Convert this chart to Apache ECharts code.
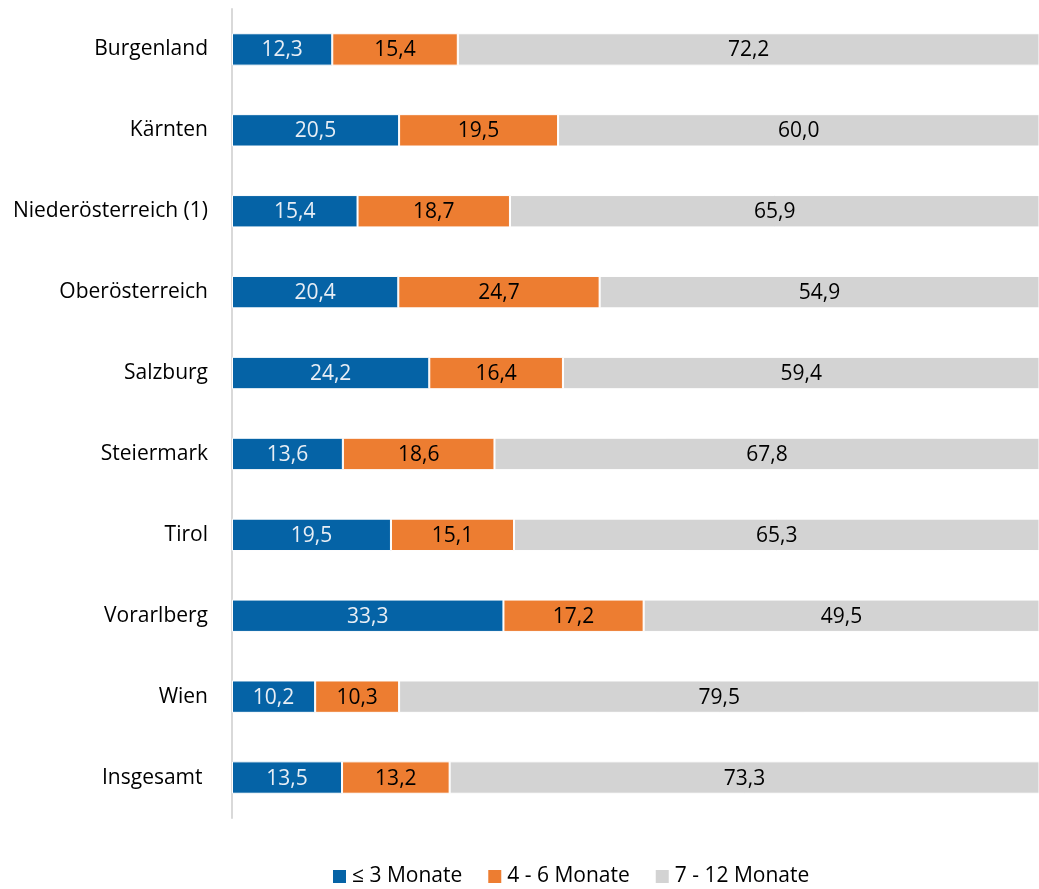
<!DOCTYPE html>
<html>
<head>
<meta charset="utf-8">
<script src="https://cdn.jsdelivr.net/npm/echarts@6/dist/echarts.min.js"></script>
<style>
  html, body { margin: 0; padding: 0; background: #fff; }
  #chart { width: 1039px; height: 889px; }
</style>
</head>
<body>
<div id="chart"></div>
<script>
// Bundesländer, oben nach unten
const regions = ['Burgenland', 'Kärnten', 'Niederösterreich (1)', 'Oberösterreich', 'Salzburg',
  'Steiermark', 'Tirol', 'Vorarlberg', 'Wien', 'Insgesamt ']
const upTo3 = [12.3, 20.5, 15.4, 20.4, 24.2, 13.6, 19.5, 33.3, 10.2, 13.5]
const from4to6 = [15.4, 19.5, 18.7, 24.7, 16.4, 18.6, 15.1, 17.2, 10.3, 13.2]
const from7to12 = [72.2, 60.0, 65.9, 54.9, 59.4, 67.8, 65.3, 49.5, 79.5, 73.3]
const seriesNames = ['≤ 3 Monate', '4 - 6 Monate', '7 - 12 Monate']

const font = '"Open Sans", sans-serif'

const chart = echarts.init(document.getElementById('chart'))

function makeSeries(name, data, color, labelColor) {
  return {
    name: name,
    type: 'bar',
    stack: 'total',
    barWidth: '40%',
    data: data,
    itemStyle: {
      color: color,
      borderColor: '#fff',
      borderWidth: 1
    },
    label: {
      show: true,
      position: 'inside',
      offset: [0, 1],
      color: labelColor,
      fontFamily: font,
      fontSize: 21,
      formatter: p => p.value.toFixed(1).replace('.', ',')
    }
  }
}

const option = {
  animation: false,
  grid: {
    left: 232,
    top: 9,
    right: 0,
    height: 809,
    containLabel: false
  },
  legend: {
    top: 861,
    left: 326,
    itemWidth: 15,
    itemHeight: 15,
    itemGap: 24,
    icon: 'rect',
    textStyle: { fontFamily: font, fontSize: 21, color: '#000' },
    data: seriesNames
  },
  xAxis: {
    type: 'value',
    min: 0,
    max: 99, // das Original ist am rechten Rand abgeschnitten
    show: false
  },
  yAxis: {
    type: 'category',
    inverse: true,
    data: regions,
    axisLine: { show: true, lineStyle: { color: '#d9d9d9', width: 2 } },
    axisTick: { show: false },
    axisLabel: {
      margin: 24,
      padding: [2, 0, 0, 0],
      color: '#000',
      fontFamily: font,
      fontSize: 21
    }
  },
  series: [
    makeSeries(seriesNames[0], upTo3, '#0563a6', '#e8eef5'),
    makeSeries(seriesNames[1], from4to6, '#ed7d31', '#000'),
    makeSeries(seriesNames[2], from7to12, '#d3d3d3', '#000')
  ]
}

option && chart.setOption(option)
</script>
</body>
</html>
